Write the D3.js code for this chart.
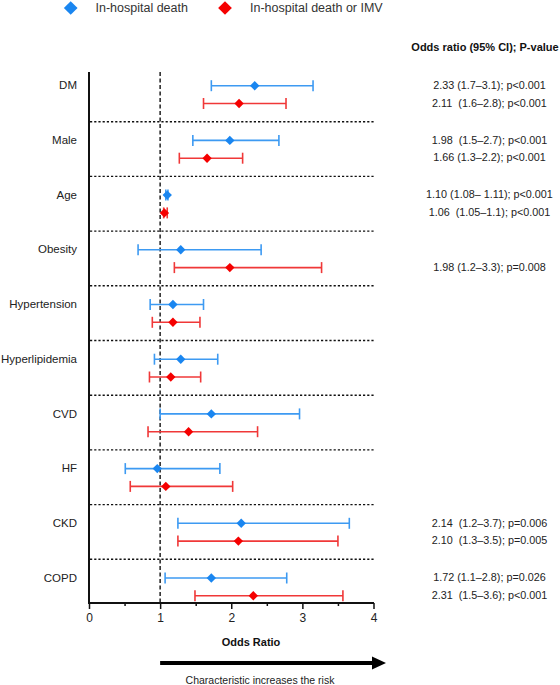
<!DOCTYPE html>
<html>
<head>
<meta charset="utf-8">
<script src="https://cdn.jsdelivr.net/npm/d3@7"></script>
<style>
  html, body { margin: 0; padding: 0; background: #fff; }
  svg { display: block; font-family: "Liberation Sans", Arial, sans-serif; }
  text { white-space: pre; }
</style>
</head>
<body>
<svg id="chart" width="560" height="685"></svg>
<script>
const categories = ["DM","Male","Age","Obesity","Hypertension","Hyperlipidemia","CVD","HF","CKD","COPD"];
const seriesNames = ["In-hospital death", "In-hospital death or IMV"];
const deathOR = [2.33,1.98,1.10,1.29,1.18,1.29,1.72,0.96,2.14,1.72];
const deathLo = [1.72,1.46,1.08,0.69,0.86,0.92,1.00,0.51,1.25,1.07];
const deathHi = [3.15,2.67,1.11,2.42,1.61,1.81,2.96,1.84,3.66,2.78];
const imvOR = [2.11,1.66,1.06,1.98,1.18,1.15,1.40,1.08,2.10,2.31];
const imvLo = [1.61,1.27,1.05,1.20,0.89,0.85,0.83,0.58,1.25,1.49];
const imvHi = [2.77,2.16,1.10,3.27,1.56,1.57,2.37,2.02,3.50,3.57];
const deathText = ["2.33 (1.7–3.1); p<0.001","1.98  (1.5–2.7); p<0.001","1.10 (1.08– 1.11); p<0.001","","","","","","2.14  (1.2–3.7); p=0.006","1.72 (1.1–2.8); p=0.026"];
const imvText = ["2.11  (1.6–2.8); p<0.001","1.66 (1.3–2.2); p<0.001","1.06  (1.05–1.1); p<0.001","1.98 (1.2–3.3); p=0.008","","","","","2.10  (1.3–3.5); p=0.005","2.31  (1.5–3.6); p<0.001"];
const xTicks = [0,1,2,3,4];
const xMinorTicks = [0.5,1.5,2.5,3.5];

const blueMark = "#1a86f0", blueBar = "#3d9af2";
const redMark = "#f50000", redBar = "#f03838";

const svg = d3.select("#chart");
const x = d3.scaleLinear().domain([0,4]).range([89,373.5]);
const bandTop = 67, bandH = 54.7;
const y = d3.scaleBand().domain(categories).range([bandTop, bandTop + bandH*categories.length]).padding(0);
const plotTop = 72, plotBottom = 603;
const offBlue = 18.7, offRed = 36.5;

// legend
const legend = [
  {name: seriesNames[0], color: blueMark, dx: 70.7, tx: 95.5},
  {name: seriesNames[1], color: redMark, dx: 225, tx: 250}
];
legend.forEach(l => {
  svg.append("path").attr("d", d3.symbol(d3.symbolDiamond2, 120)()).attr("transform", `translate(${l.dx},8) rotate(0)`)
    .attr("fill", l.color);
  svg.append("text").attr("x", l.tx).attr("y", 8).attr("dy", "0.35em").attr("font-size", 12.5)
    .attr("fill", "#333").text(l.name);
});

// header
svg.append("text").attr("x", 485).attr("y", 47).attr("dy", "0.35em").attr("text-anchor", "middle")
  .attr("font-size", 11).attr("font-weight", "bold").attr("fill", "#111").text("Odds ratio (95% CI); P-value");

// separators
const sepG = svg.append("g");
categories.slice(1).forEach(c => {
  sepG.append("line").attr("x1", 90).attr("x2", 374).attr("y1", y(c)).attr("y2", y(c))
    .attr("stroke", "#111").attr("stroke-width", 1.4).attr("stroke-dasharray", "2.2,2");
});

// reference line at OR = 1
svg.append("line").attr("x1", x(1)).attr("x2", x(1)).attr("y1", plotTop).attr("y2", plotBottom)
  .attr("stroke", "#111").attr("stroke-width", 1.4).attr("stroke-dasharray", "4,2.5");

// y axis with labels
const yAxis = d3.axisLeft(y).tickSize(0).tickPadding(12);
const yg = svg.append("g").attr("transform", `translate(${x(0)},0)`).call(yAxis);
yg.select(".domain").remove();
yg.selectAll(".tick text").attr("y", offBlue - bandH/2).attr("font-size", 11.5)
  .attr("font-family", "Liberation Sans, Arial, sans-serif").attr("fill", "#222");
svg.append("line").attr("x1", x(0)).attr("x2", x(0)).attr("y1", plotTop).attr("y2", plotBottom + 1)
  .attr("stroke", "#111").attr("stroke-width", 2);

// x axis
const xAxis = d3.axisBottom(x).tickValues(xTicks).tickSize(6).tickPadding(4).tickFormat(d3.format("d"));
const xg = svg.append("g").attr("transform", `translate(0,${plotBottom})`).call(xAxis);
xg.select(".domain").remove();
xg.selectAll(".tick line").attr("stroke", "#111").attr("stroke-width", 1.5);
xg.selectAll(".tick text").attr("font-size", 12).attr("font-family", "Liberation Sans, Arial, sans-serif").attr("fill", "#222");
const xMinor = d3.axisBottom(x).tickValues(xMinorTicks).tickSize(3).tickFormat("");
const xmg = svg.append("g").attr("transform", `translate(0,${plotBottom})`).call(xMinor);
xmg.select(".domain").remove();
xmg.selectAll(".tick line").attr("stroke", "#111").attr("stroke-width", 1.5);
svg.append("line").attr("x1", x(0) - 1).attr("x2", x(4) + 0.5).attr("y1", plotBottom).attr("y2", plotBottom)
  .attr("stroke", "#111").attr("stroke-width", 2);

// series
const series = [
  {or: deathOR, lo: deathLo, hi: deathHi, off: offBlue, mark: blueMark, bar: blueBar, txt: deathText},
  {or: imvOR, lo: imvLo, hi: imvHi, off: offRed, mark: redMark, bar: redBar, txt: imvText}
];
const capH = 5.5;
series.forEach(s => {
  const g = svg.append("g");
  categories.forEach((c, i) => {
    const cy = y(c) + s.off;
    g.append("line").attr("x1", x(s.lo[i])).attr("x2", x(s.hi[i])).attr("y1", cy).attr("y2", cy)
      .attr("stroke", s.bar).attr("stroke-width", 1.6);
    [s.lo[i], s.hi[i]].forEach(v => {
      g.append("line").attr("x1", x(v)).attr("x2", x(v)).attr("y1", cy - capH).attr("y2", cy + capH)
        .attr("stroke", s.bar).attr("stroke-width", 1.6);
    });
    g.append("path").attr("d", d3.symbol(d3.symbolDiamond2, 56)()).attr("transform", `translate(${x(s.or[i])},${cy})`)
      .attr("fill", s.mark);
    if (s.txt[i]) {
      svg.append("text").attr("x", 489.5).attr("y", cy - 0.5).attr("dy", "0.35em").attr("text-anchor", "middle")
        .attr("font-size", 10.8).attr("fill", "#222").text(s.txt[i]);
    }
  });
});

// x label
svg.append("text").attr("x", 251).attr("y", 642).attr("dy", "0.35em").attr("text-anchor", "middle")
  .attr("font-size", 11).attr("font-weight", "bold").attr("fill", "#111").text("Odds Ratio");

// arrow
svg.append("line").attr("x1", x(1)).attr("x2", 374).attr("y1", 663).attr("y2", 663)
  .attr("stroke", "#000").attr("stroke-width", 4);
svg.append("path").attr("d", "M372,656.5 L386,663 L372,669.5 Z").attr("fill", "#000");
svg.append("text").attr("x", 260).attr("y", 680).attr("dy", "0.35em").attr("text-anchor", "middle")
  .attr("font-size", 10.5).attr("fill", "#222").text("Characteristic increases the risk");
</script>
</body>
</html>
